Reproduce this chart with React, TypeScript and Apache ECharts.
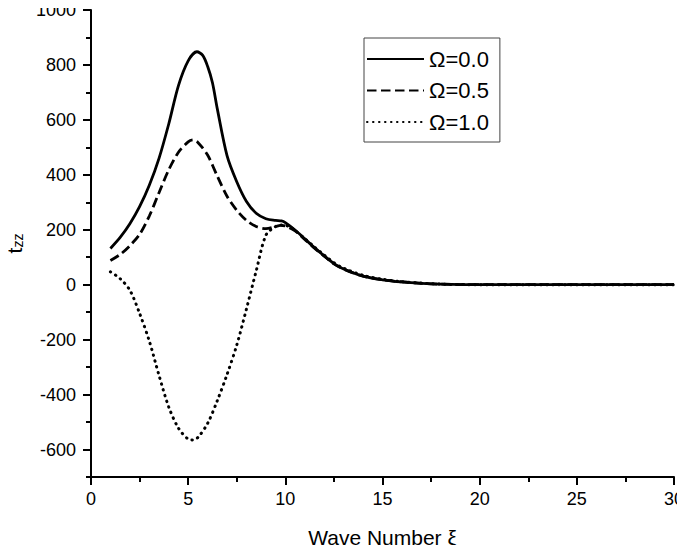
import React, { useEffect, useRef } from "react";
import * as echarts from "echarts";

const seriesNames = ["Ω=0.0", "Ω=0.5", "Ω=1.0"];

const x0 = [1, 1.5, 2, 2.5, 3, 3.5, 4, 4.5, 5, 5.45, 5.75, 6, 6.25, 6.5, 7, 7.5, 8, 8.5, 9, 9.5, 9.8, 10, 10.5, 11, 11.5, 12, 12.5, 13, 14, 15, 16, 17, 18, 20, 25, 30];
const y0 = [132, 172, 222, 284, 362, 460, 585, 725, 815, 848, 835, 795, 735, 640, 470, 375, 303, 260, 240, 234, 232, 226, 199, 167, 135, 105, 77, 57, 31, 18, 10, 5, 2, 0, 0, 0];

const x1 = [1, 1.5, 2, 2.5, 3, 3.5, 4, 4.5, 5, 5.25, 5.5, 6, 6.5, 7, 7.5, 8, 8.5, 9, 9.5, 9.75, 10, 10.5, 11, 11.5, 12, 12.5, 13, 14, 15, 16, 17, 18, 20, 25, 30];
const y1 = [88, 110, 142, 183, 250, 335, 418, 482, 520, 527, 518, 472, 395, 322, 271, 234, 212, 204, 212, 216, 214, 196, 165, 133, 104, 76, 57, 31, 18, 10, 5, 2, 0, 0, 0];

const x2 = [1, 1.5, 2, 2.5, 3, 3.5, 4, 4.5, 5, 5.25, 5.5, 6, 6.5, 7, 7.5, 8, 8.5, 9, 9.5, 9.8, 10.2, 10.5, 11, 11.5, 12, 12.5, 13, 14, 15, 16, 17, 18, 20, 25, 30];
const y2 = [47, 22, -20, -104, -205, -330, -445, -522, -562, -565, -556, -505, -422, -327, -220, -88, 50, 180, 212, 217, 212, 197, 168, 137, 108, 80, 60, 34, 20, 11, 6, 2, 0, 0, 0];

const xTicks = { min: 0, max: 30, interval: 5 };
const yRange = { min: -700, max: 1000 };
const yMajorTicks = [-600, -400, -200, 0, 200, 400, 600, 800, 1000];
const yMinorTicks = [-700, -500, -300, -100, 100, 300, 500, 700, 900];

const pairs = (xs: number[], ys: number[]) => xs.map((x, i) => [x, ys[i]]);

export default function App() {
  const ref = useRef<HTMLDivElement>(null);
  useEffect(() => {
    if (!ref.current) return;
    const chart = echarts.init(ref.current, null, { renderer: "svg" });
    const font = "'Liberation Sans', Arial, sans-serif";
    const lineSeries = (name: string, data: number[][], type: any, width: number, cap: string) => ({
      name,
      type: "line",
      data,
      smooth: 0.3,
      symbol: "none",
      showSymbol: false,
      lineStyle: { color: "#000", width, type, cap },
      itemStyle: { color: "#000" },
    });
    chart.setOption({
      animation: false,
      backgroundColor: "#fff",
      textStyle: { fontFamily: font },
      grid: { left: 91, right: 11, top: 10, bottom: 76, containLabel: false, outerBoundsMode: "none" },
      xAxis: {
        type: "value",
        ...xTicks,
        axisLine: { show: true, onZero: false, lineStyle: { color: "#000", width: 2 } },
        axisTick: { show: true, length: 8, lineStyle: { color: "#000", width: 2 } },
        minorTick: { show: true, splitNumber: 2, length: 5, lineStyle: { color: "#000", width: 2 } },
        splitLine: { show: false },
        axisLabel: { fontSize: 18, color: "#000", margin: 13, fontFamily: font },
        name: "Wave Number ξ",
        nameLocation: "middle",
        nameGap: 50,
        nameTextStyle: { fontSize: 21, color: "#000", fontFamily: font },
      },
      yAxis: [
        {
          type: "value",
          ...yRange,
          interval: 100,
          position: "left",
          axisLine: { show: true, onZero: false, lineStyle: { color: "#000", width: 2 } },
          axisTick: { show: true, length: 8, customValues: yMajorTicks, lineStyle: { color: "#000", width: 2 } },
          splitLine: { show: false },
          axisLabel: {
            fontSize: 18,
            color: "#000",
            margin: 15,
            customValues: yMajorTicks,
            formatter: (v: number) => String(v),
            fontFamily: font,
          },
          name: "{t|t}{s|zz}",
          nameLocation: "middle",
          nameRotate: 90,
          nameGap: 65,
          nameTextStyle: {
            color: "#000",
            fontFamily: font,
            rich: {
              t: { fontSize: 21, lineHeight: 21, verticalAlign: "top", fontFamily: font, color: "#000" },
              s: { fontSize: 14, lineHeight: 14, padding: [12, 0, 0, 0], verticalAlign: "bottom", fontFamily: font, color: "#000" },
            },
          },
        },
        {
          type: "value",
          ...yRange,
          interval: 100,
          position: "left",
          axisLine: { show: false, onZero: false },
          axisTick: { show: true, length: 5, customValues: yMinorTicks, lineStyle: { color: "#000", width: 2 } },
          axisLabel: { show: false },
          splitLine: { show: false },
        },
      ],
      legend: {
        orient: "vertical",
        left: 364,
        top: 38,
        padding: [10, 11, 9, 2],
        itemWidth: 57,
        itemHeight: 14,
        itemGap: 9.5,
        borderColor: "#444",
        borderWidth: 1,
        itemStyle: { opacity: 0 },
        textStyle: { fontSize: 22, color: "#000", fontFamily: font },
        data: seriesNames,
      },
      series: [
        lineSeries(seriesNames[0], pairs(x0, y0), "solid", 2.8, "butt"),
        lineSeries(seriesNames[1], pairs(x1, y1), [9.5, 4.5], 2.8, "butt"),
        lineSeries(seriesNames[2], pairs(x2, y2), [0.5, 5.5], 3, "round"),
      ],
    });
    return () => chart.dispose();
  }, []);
  return <div ref={ref} style={{ width: 685, height: 553, margin: -8 }} />;
}
